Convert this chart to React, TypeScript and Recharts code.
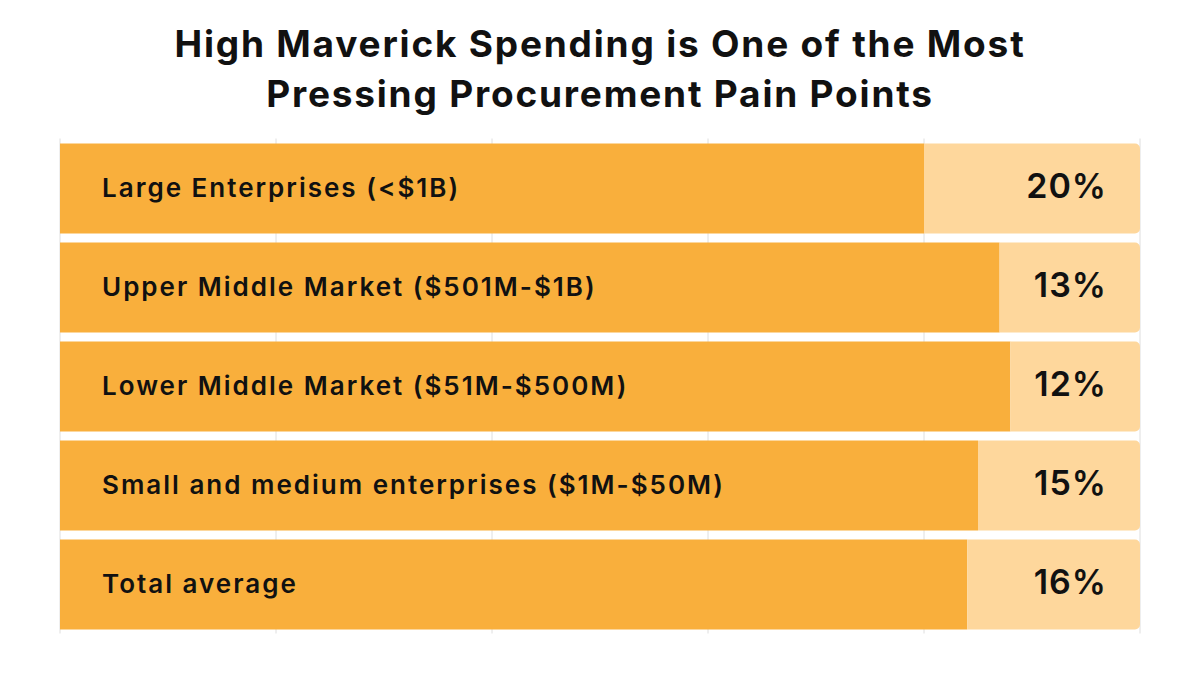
import { BarChart, Bar, XAxis, YAxis, CartesianGrid, LabelList } from 'recharts';

const segments = [
  'Large Enterprises (<$1B)',
  'Upper Middle Market ($501M-$1B)',
  'Lower Middle Market ($51M-$500M)',
  'Small and medium enterprises ($1M-$50M)',
  'Total average',
];
const shares = [20, 13, 12, 15, 16];
const xTicks = [0, 20, 40, 60, 80, 100];

const DARK = '#F9AF3C';
const LIGHT = '#FED79C';
const FONT = 'Inter, "Noto Sans", sans-serif';

const chartData = segments.map((name, i) => ({
  name,
  value: shares[i],
  rest: 100 - shares[i],
}));

// category text sits inside the dark part of the bar
const NameLabel = (props: any) => {
  const { x, y, height, value } = props;
  return (
    <text
      x={x + 42}
      y={y + height / 2 + 1}
      dominantBaseline="middle"
      fontFamily={FONT}
      fontWeight={600}
      fontSize={26}
      letterSpacing={2}
      fill="#111"
    >
      {value}
    </text>
  );
};

const ValueLabel = (props: any) => {
  const { x, y, width, height, value } = props;
  return (
    <text
      x={x + width - 33}
      y={y + height / 2}
      textAnchor="end"
      dominantBaseline="middle"
      fontFamily={FONT}
      fontWeight={600}
      fontSize={34}
      letterSpacing={1}
      fill="#111"
    >
      {value}%
    </text>
  );
};

const App = () => {
  return (
    <div style={{ position: 'absolute', left: 0, top: 0, width: 1200, height: 700, background: '#fff' }}>
      <div
        style={{
          position: 'absolute',
          top: 19,
          left: 0,
          width: 1200,
          textAlign: 'center',
          fontFamily: FONT,
          fontWeight: 700,
          fontSize: 37,
          letterSpacing: 1.8,
          lineHeight: '50px',
          color: '#111',
        }}
      >
        High Maverick Spending is One of the Most
        <br />
        Pressing Procurement Pain Points
      </div>
      <BarChart
        width={1200}
        height={700}
        data={chartData}
        layout="vertical"
        margin={{ top: 138.5, right: 60, bottom: 66.5, left: 60 }}
        barSize={90}
      >
        <CartesianGrid vertical horizontal={false} stroke="#dedede" />
        <XAxis type="number" domain={[0, 100]} ticks={xTicks} hide />
        <YAxis type="category" dataKey="name" hide />
        <Bar dataKey="rest" stackId="a" fill={DARK} isAnimationActive={false}>
          <LabelList dataKey="name" content={NameLabel} />
        </Bar>
        <Bar dataKey="value" stackId="a" fill={LIGHT} radius={[0, 5, 5, 0]} isAnimationActive={false}>
          <LabelList dataKey="value" content={ValueLabel} />
        </Bar>
      </BarChart>
    </div>
  );
};

export default App;
